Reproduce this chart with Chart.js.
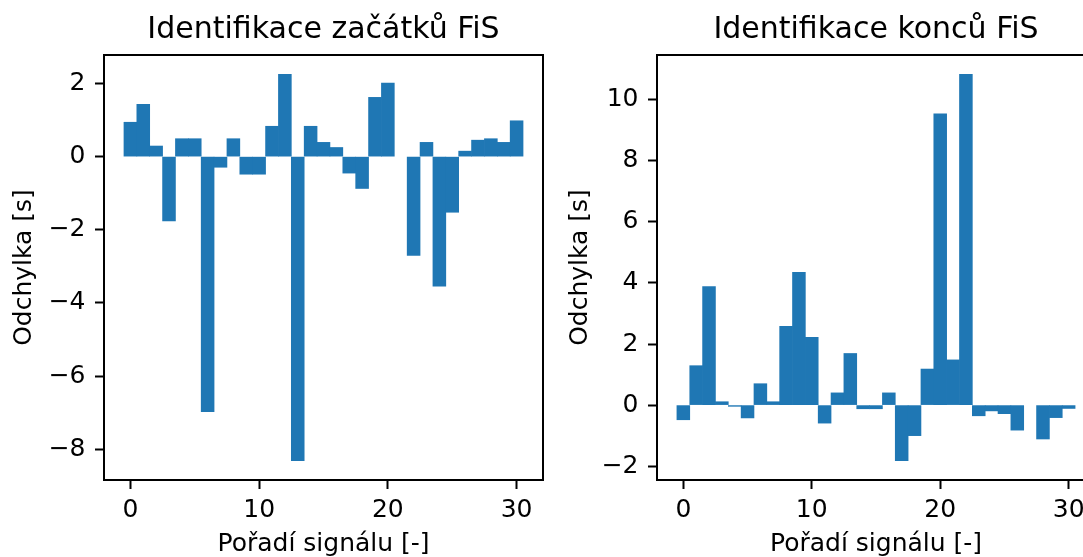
<!DOCTYPE html>
<html>
<head>
<meta charset="utf-8">
<script src="https://cdn.jsdelivr.net/npm/chart.js@4.4.1/dist/chart.umd.min.js"></script>
<style>
html, body { margin: 0; padding: 0; background: #fff; overflow: hidden; width: 1083px; height: 557px; }
.panel { position: absolute; top: 0; }
#wrap_start { left: 0; }
#wrap_end { left: 560px; }
</style>
</head>
<body>
<div class="panel" id="wrap_start"><canvas id="chart_start" width="647" height="557"></canvas></div>
<div class="panel" id="wrap_end"><canvas id="chart_end" width="632" height="557"></canvas></div>
<script>
// poradi signalu (x) and odchylky [s]
const signalOrder = [0, 1, 2, 3, 4, 5, 6, 7, 8, 9, 10, 11, 12, 13, 14, 15, 16, 17, 18, 19, 20, 21, 22, 23, 24, 25, 26, 27, 28, 29, 30] ;
const startDeviation = [0.94, 1.43, 0.29, -1.76, 0.49, 0.49, -6.97, -0.29, 0.49, -0.48, -0.48, 0.83, 2.25, -8.31, 0.83, 0.39, 0.25, -0.45, -0.87, 1.62, 2.01, 0, -2.70, 0.39, -3.54, -1.52, 0.15, 0.45, 0.49, 0.39, 0.98] ;
const endDeviation = [-0.48, 1.29, 3.88, 0.11, -0.04, -0.42, 0.70, 0.11, 2.58, 4.35, 2.22, -0.59, 0.40, 1.69, -0.12, -0.12, 0.40, -1.82, -1.00, 1.18, 9.54, 1.48, 10.83, -0.35, -0.19, -0.28, -0.82, 0, -1.11, -0.41, -0.11] ;
const xTicks = [0, 10, 20, 30] ;
const startTicks = [-8, -6, -4, -2, 0, 2] ;
const endTicks = [-2, 0, 2, 4, 6, 8, 10] ;

const barColor = '#1f77b4' ;
const fontFam = "'DejaVu Sans', sans-serif" ;

// matplotlib style box round the axes
const framePlugin = {
    id: 'frame',
    afterDraw (chart) {
        const a = chart.chartArea ;
        const ctx = chart.ctx ;
        ctx.save() ;
        ctx.strokeStyle = '#000' ;
        ctx.lineWidth = 2 ;
        ctx.strokeRect(a.left, a.top, a.right - a.left, a.bottom - a.top) ;
        ctx.restore() ;
    }
} ;

function minusLabel (v) {
    return v < 0 ? '\u2212' + Math.abs(v) : '' + v ;
}

function buildChart (canvasId, titleText, values, yTicks, axisWidth, yTitlePad) {
    // 5% margins like matplotlib autoscale
    let lo = Math.min(0, ...values) ;
    let hi = Math.max(0, ...values) ;
    let m = (hi - lo) * 0.05 ;
    let xlo = signalOrder[0] - 0.5, xhi = signalOrder[signalOrder.length - 1] + 0.5 ;
    let xm = (xhi - xlo) * 0.05 ;

    let ctx = document.getElementById(canvasId).getContext('2d') ;
    return new Chart(ctx, {
        type: 'bar',
        data: {
            datasets: [{
                data: signalOrder.map((x, i) => ({ x: x, y: values[i] })),
                backgroundColor: barColor,
                borderWidth: 0,
                barPercentage: 1,
                categoryPercentage: 1,
                // zero height bars stay invisible, others overlap a bit so no seams
                inflateAmount: c => (values[c.dataIndex] === 0 ? 0 : 'auto'),
            }]
        },
        options: {
            responsive: false,
            animation: false,
            layout: { padding: 0 },
            plugins: {
                legend: { display: false },
                tooltip: { enabled: false },
                title: {
                    display: true,
                    text: titleText,
                    color: '#000',
                    font: { family: fontFam, size: 30, weight: 'normal', lineHeight: 1.2 },
                    padding: { top: 12.5, bottom: 6.5 }
                }
            },
            scales: {
                x: {
                    type: 'linear',
                    offset: false,
                    min: xlo - xm,
                    max: xhi + xm,
                    afterBuildTicks: s => { s.ticks = xTicks.map(v => ({ value: v })) ; },
                    afterFit: s => { s.height = 77 ; },
                    grid: { display: true, offset: false, drawOnChartArea: false, drawTicks: true, tickLength: 9, tickWidth: 2, tickColor: '#000' },
                    border: { display: false },
                    ticks: { color: '#000', font: { family: fontFam, size: 25 }, padding: 6, maxRotation: 0, autoSkip: false },
                    title: { display: true, text: 'Pořadí signálu [-]', color: '#000', font: { family: fontFam, size: 25, lineHeight: 1 }, padding: 0 }
                },
                y: {
                    min: lo - m,
                    max: hi + m,
                    afterBuildTicks: s => { s.ticks = yTicks.map(v => ({ value: v })) ; },
                    afterFit: s => { s.width = axisWidth ; },
                    grid: { display: true, drawOnChartArea: false, drawTicks: true, tickLength: 9, tickWidth: 2, tickColor: '#000' },
                    border: { display: false },
                    ticks: { color: '#000', font: { family: fontFam, size: 25 }, padding: 9.5, autoSkip: false, callback: minusLabel },
                    title: { display: true, text: 'Odchylka [s]', color: '#000', font: { family: fontFam, size: 25, lineHeight: 1 }, padding: { top: yTitlePad, bottom: 0 } }
                },
                // empty right side so the title centres over the axes
                yRight: {
                    position: 'right',
                    display: true,
                    afterFit: s => { s.width = axisWidth ; },
                    grid: { display: false },
                    border: { display: false },
                    ticks: { display: false }
                }
            }
        },
        plugins: [framePlugin]
    }) ;
}

buildChart('chart_start', 'Identifikace začátků FiS', startDeviation, startTicks, 104, 11.5) ;
buildChart('chart_end', 'Identifikace konců FiS', endDeviation, endTicks, 97, 7.5) ;
</script>
</body>
</html>
